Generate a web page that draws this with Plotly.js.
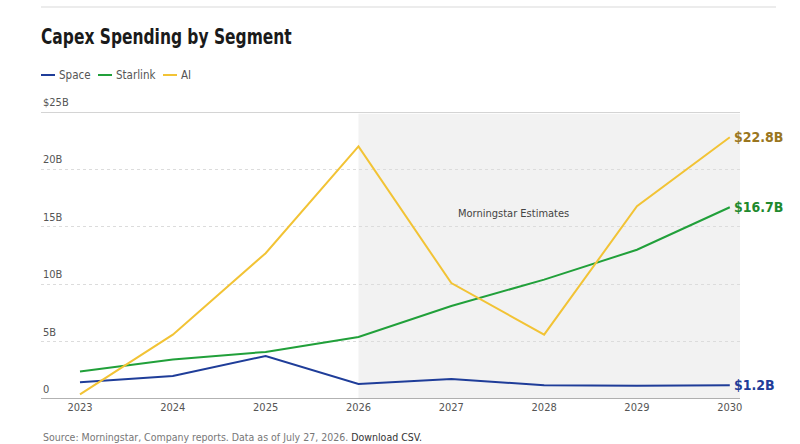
<!DOCTYPE html>
<html>
<head>
<meta charset="utf-8">
<script src="https://cdn.plot.ly/plotly-3.0.1.min.js"></script>
<style>
html,body{margin:0;padding:0;background:#fff;}
#chart{width:800px;height:444px;}
#chart svg text{font-stretch:condensed !important;}
#chart svg text.gtitle{transform:scaleX(0.82);transform-origin:41px 0;}
</style>
</head>
<body>
<div id="chart"></div>
<script>
const years = [2023, 2024, 2025, 2026, 2027, 2028, 2029, 2030];
const space = [1.45, 2.0, 3.75, 1.3, 1.75, 1.2, 1.15, 1.2];
const starlink = [2.4, 3.45, 4.1, 5.4, 8.1, 10.4, 13.0, 16.7];
const ai = [0.4, 5.6, 12.7, 22.0, 10.1, 5.6, 16.8, 22.8];
const seriesNames = ['Space', 'Starlink', 'AI'];
const yTicks = [0, 5, 10, 15, 20, 25];
const yTickLabels = ['0', '5B', '10B', '15B', '20B', '$25B'];
const endLabels = ['$1.2B', '$16.7B', '$22.8B'];
const estimateStart = 2026;

const FONT = '"DejaVu Sans Condensed", "DejaVu Sans", sans-serif';
const lineColors = ['#1f3d99', '#21a03a', '#f2c335'];
const labelColors = ['#1f3d99', '#1f8a2e', '#9a7620'];
const seriesData = [space, starlink, ai];

const traces = seriesData.map((arr, k) => ({
  x: years, y: arr, name: seriesNames[k], mode: 'lines', line: {color: lineColors[k], width: 2}, showlegend: false
}));

// paper coordinate helpers for plot area (41..740 x, 112..399 y)
const px = v => (v - 41) / 699;
const py = v => (399 - v) / 287;

const annotations = [];
const shapes = [
  {type: 'rect', xref: 'x', yref: 'y', x0: estimateStart, x1: 2030.11, y0: 0, y1: 24.85,
    fillcolor: '#f2f2f2', line: {width: 0}, layer: 'below'},
  {type: 'line', xref: 'paper', yref: 'y', x0: 0, x1: 1, y0: 25, y1: 25, line: {color: '#aaa', width: 1}},
  {type: 'line', xref: 'paper', yref: 'y', x0: 0, x1: 1, y0: 0, y1: 0, line: {color: '#999', width: 1.5}},
  {type: 'line', xref: 'paper', yref: 'paper', x0: 0, x1: px(776), y0: py(7), y1: py(7),
    line: {color: '#e6e6e6', width: 1.5}}
];

yTicks.forEach((v, i) => {
  annotations.push({xref: 'paper', yref: 'y', x: 0, y: v, xanchor: 'left', yanchor: 'bottom',
    yshift: 1, text: yTickLabels[i], showarrow: false, font: {family: FONT, size: 11, color: '#555'}});
});
const lastIdx = years.length - 1;
seriesData.forEach((arr, k) => {
  annotations.push({x: years[lastIdx], y: arr[lastIdx], xref: 'x', yref: 'y', xanchor: 'left', yanchor: 'middle',
    xshift: 2, text: '<b>' + endLabels[k] + '</b>', showarrow: false, font: {family: FONT, size: 14, color: labelColors[k]}});
});

// custom legend
const legendX = [41, 98, 163];
seriesNames.forEach((n, k) => {
  shapes.push({type: 'line', xref: 'paper', yref: 'paper', x0: px(legendX[k]), x1: px(legendX[k] + 14),
    y0: py(75), y1: py(75), line: {color: lineColors[k], width: 2}});
  annotations.push({xref: 'paper', yref: 'paper', x: px(legendX[k] + 16), y: py(75), xanchor: 'left', yanchor: 'middle',
    text: n, showarrow: false, font: {family: FONT, size: 11.5, color: '#555'}});
});

annotations.push({xref: 'x', yref: 'y', x: 2027.67, y: 16.2, text: 'Morningstar Estimates', showarrow: false,
  font: {family: FONT, size: 11, color: '#444'}});
annotations.push({xref: 'paper', yref: 'paper', x: 0, y: py(437), xanchor: 'left', yanchor: 'middle', showarrow: false,
  text: 'Source: Morningstar, Company reports. Data as of July 27, 2026. <span style="color:#333">Download CSV.</span>',
  font: {family: FONT, size: 10.5, color: '#777'}});

const layout = {
  width: 800, height: 444,
  margin: {l: 41, r: 60, t: 112, b: 45},
  paper_bgcolor: '#fff', plot_bgcolor: 'rgba(0,0,0,0)',
  title: {text: '<b>Capex Spending by Segment</b>', x: 41/800, xanchor: 'left', xref: 'container',
    y: 1 - 37/444, yanchor: 'middle', yref: 'container', font: {family: FONT, size: 21, color: '#1a1a1a'}},
  showlegend: false,
  xaxis: {range: [2022.58, 2030.11], tickvals: years, ticktext: years.map(String), showgrid: false,
    zeroline: false, showline: false, ticks: '', tickfont: {family: FONT, size: 11, color: '#555'}, fixedrange: true},
  yaxis: {range: [0, 25], tickvals: yTicks.slice(1, 5), showticklabels: false, showgrid: true,
    gridcolor: '#dcdcdc', griddash: 'dot', gridwidth: 1, zeroline: false, showline: false, fixedrange: true},
  shapes: shapes,
  annotations: annotations
};

Plotly.newPlot('chart', traces, layout, {displayModeBar: false, staticPlot: true});
</script>
</body>
</html>
